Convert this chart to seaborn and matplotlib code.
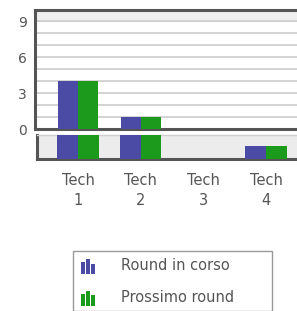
import matplotlib
matplotlib.use("Agg")
import matplotlib.pyplot as plt
import seaborn as sns
import pandas as pd
from matplotlib.legend_handler import HandlerBase
from matplotlib.patches import Rectangle, Patch

categories = ["Tech\n1", "Tech\n2", "Tech\n3", "Tech\n4"]
series = ["Round in corso", "Prossimo round"]
round_in_corso = [4, 1, 0, 0]
prossimo_round = [4, 1, 0, 0]
# lower strip values (clipped to the strip range)
lower_in_corso = [4, 1, 0, 0.55]
lower_prossimo = [4, 1, 0, 0.55]
yticks = [0, 3, 6, 9]

colors = ["#4b4ba6", "#1c9a1c"]
W, H = 297, 311

sns.set_theme(style="white")
plt.rcParams['font.family'] = ['DejaVu Sans']

df = pd.DataFrame({
    "cat": categories * 2,
    "serie": [series[0]] * 4 + [series[1]] * 4,
    "val": round_in_corso + prossimo_round,
})
df2 = pd.DataFrame({
    "cat": categories * 2,
    "serie": [series[0]] * 4 + [series[1]] * 4,
    "val": lower_in_corso + lower_prossimo,
})

fig = plt.figure(figsize=(W / 100, H / 100), dpi=100)
fig.patch.set_facecolor("white")

spacing = 62.7
c0 = 78
# top axes
ax = fig.add_axes([35 / W, 1 - 129 / H, 1 - 35 / W, 119 / H])
ax.set_facecolor("white")
ax.axhspan(9, 9.95, color="#efefef", zorder=0)
sns.barplot(data=df, x="cat", y="val", hue="serie", hue_order=series,
            palette=colors, width=0.64, saturation=1, ax=ax, legend=False,
            zorder=3, edgecolor="none")
ax.set_xlim(-(c0 - 35) / spacing, (W - c0) / spacing)
ax.set_ylim(0, 9.95)
ax.set_yticks(yticks)
ax.set_yticks(range(1, 10), minor=True)
ax.grid(True, which="both", axis="y", color="#cccccc", linewidth=1.2, zorder=1)
ax.set_axisbelow(True)
ax.set_xticks([])
ax.set_xlabel("")
ax.set_ylabel("")
ax.tick_params(axis="y", which="both", length=0, pad=6, labelsize=10, labelcolor="#555555")
for s in ["left", "top", "bottom"]:
    ax.spines[s].set_visible(True)
    ax.spines[s].set_color("#555555")
    ax.spines[s].set_linewidth(2.2)
ax.spines["right"].set_visible(False)

# lower strip
ax2 = fig.add_axes([37 / W, 1 - 159 / H, 1 - 37 / W, 24 / H])
ax2.set_facecolor("#ececec")
sns.barplot(data=df2, x="cat", y="val", hue="serie", hue_order=series,
            palette=colors, width=0.66, saturation=1, ax=ax2, legend=False,
            zorder=3, edgecolor="none")
ax2.set_xlim(-(c0 - 37) / spacing, (W - c0) / spacing)
ax2.set_ylim(0, 1)
ax2.set_yticks([])
ax2.set_xlabel("")
ax2.set_ylabel("")
ax2.set_xticks(range(4))
ax2.set_xticklabels(categories)
ax2.tick_params(axis="x", length=0, pad=10, labelsize=10.5, labelcolor="#555555")
for lbl in ax2.get_xticklabels():
    lbl.set_linespacing(1.45)
for s in ["left", "bottom"]:
    ax2.spines[s].set_visible(True)
    ax2.spines[s].set_color("#555555")
    ax2.spines[s].set_linewidth(2.2)
ax2.spines["top"].set_visible(True)
ax2.spines["top"].set_color("#cfcfcf")
ax2.spines["top"].set_linewidth(1)
ax2.spines["right"].set_visible(False)

# legend box
fig.patches.append(Rectangle((73 / W, 0), (272 - 73) / W, 1 - 251 / H,
                             transform=fig.transFigure, facecolor="white",
                             edgecolor="#9a9a9a", linewidth=1, zorder=0))


class BarIconHandler(HandlerBase):
    def create_artists(self, legend, orig_handle, xdescent, ydescent,
                       width, height, fontsize, trans):
        c = orig_handle.get_facecolor()
        artists = []
        bw = width / 4.0
        for i, frac in enumerate([0.8, 1.05, 0.65]):
            x = -xdescent + i * bw * 1.45
            r = Rectangle((x, -ydescent - 2), bw, height * frac + 2,
                          facecolor=c, edgecolor="none", transform=trans)
            artists.append(r)
        return artists


handles = [Patch(facecolor=c) for c in colors]
leg = fig.legend(handles, series, loc="upper left",
                 bbox_to_anchor=(77 / W, 1 - 254 / H), frameon=False,
                 fontsize=10.5, labelcolor="#555555", handlelength=0.95,
                 handleheight=0.85, borderaxespad=0,
                 handletextpad=1.75, labelspacing=1.15, borderpad=0.3,
                 handler_map={Patch: BarIconHandler()})

fig.savefig("out.png", dpi=100)
